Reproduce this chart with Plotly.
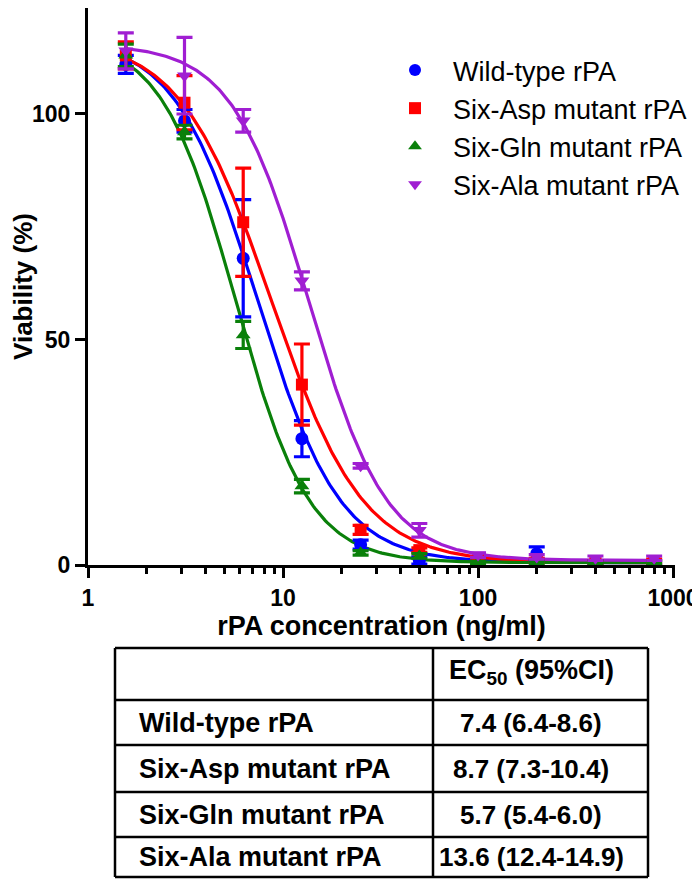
import numpy as np
import plotly.graph_objects as go

# ---------------- data ----------------
conc = [1.5625, 3.125, 6.25, 12.5, 25, 50, 100, 200, 400, 800]

series_names = ["Wild-type rPA", "Six-Asp mutant rPA", "Six-Gln mutant rPA", "Six-Ala mutant rPA"]

wt_mean = [111.0, 98.5, 68.0, 28.0, 4.5, 1.0, 0.5, 2.5, 0.5, 0.5]
wt_err = [2.0, 2.5, 13.0, 4.0, 1.0, 0.8, 0.5, 1.5, 0.5, 0.5]

asp_mean = [113.0, 102.5, 76.0, 40.0, 7.8, 3.3, 1.0, 1.0, 0.5, 0.8]
asp_err = [3.0, 6.0, 12.0, 9.0, 1.0, 0.5, 0.5, 0.5, 0.5, 0.5]

gln_mean = [113.0, 96.0, 51.0, 17.5, 2.7, 2.0, 0.5, 0.5, 0.5, 0.5]
gln_err = [2.5, 1.5, 3.0, 1.5, 0.5, 0.5, 0.3, 0.3, 0.3, 0.3]

ala_mean = [114.0, 108.5, 98.5, 63.0, 22.0, 7.7, 2.2, 1.8, 1.5, 1.5]
ala_err = [4.0, 8.5, 2.5, 2.0, 0.5, 1.5, 0.5, 0.5, 0.5, 0.5]

# fitted four-parameter logistic curve parameters (EC50 from the table)
ec50 = [7.4, 8.7, 5.7, 13.6]
hill = [2.05, 1.85, 2.3, 2.2]
top = [117.0, 117.0, 117.0, 115.5]
bottom = [0.5, 0.5, 0.5, 1.0]

# table
table_header = "EC<sub>50</sub> (95%CI)"
table_labels = ["Wild-type rPA", "Six-Asp mutant rPA", "Six-Gln mutant rPA", "Six-Ala mutant rPA"]
table_values = ["7.4 (6.4-8.6)", "8.7 (7.3-10.4)", "5.7 (5.4-6.0)", "13.6 (12.4-14.9)"]

x_tickvals = [1, 10, 100, 1000]
x_minor_tickvals = [m * d for d in (1, 10, 100) for m in range(2, 10)]
y_tickvals = [0, 50, 100]

# ---------------- styling ----------------
colors = ["#0000FF", "#FF0000", "#0A800A", "#A01ED2"]
symbols = ["circle", "square", "triangle-up", "triangle-down"]
msize = [13, 12, 13, 13]
FONT = "Liberation Sans, Arial, sans-serif"

# the page body has an 8px default margin: build the figure 8px smaller
OFF = 8
W, H = 700 - OFF, 880 - OFF
def px(x):
    return (x - OFF) / W
def py(y):
    return 1 - (y - OFF) / H

means = [wt_mean, asp_mean, gln_mean, ala_mean]
errs = [wt_err, asp_err, gln_err, ala_err]

fig = go.Figure()

xs = np.logspace(np.log10(conc[0]), np.log10(conc[-1]), 300)
for i in range(4):
    ys = bottom[i] + (top[i] - bottom[i]) / (1 + (xs / ec50[i]) ** hill[i])
    fig.add_trace(go.Scatter(x=xs, y=ys, mode="lines",
                             line=dict(color=colors[i], width=3.2),
                             showlegend=False, hoverinfo="skip"))

for i in range(4):
    fig.add_trace(go.Scatter(
        x=conc, y=means[i], mode="markers", name=series_names[i],
        legendgroup=series_names[i],
        marker=dict(symbol=symbols[i], size=msize[i], color=colors[i]),
        error_y=dict(type="data", array=errs[i], visible=True,
                     color=colors[i], thickness=3.2, width=8),
    ))

fig.update_layout(
    width=W, height=H,
    margin=dict(l=0, r=0, t=0, b=0),
    paper_bgcolor="white", plot_bgcolor="white",
    font=dict(family=FONT, color="black"),
    xaxis=dict(
        type="log", range=[0, 3.01], automargin=False,
        domain=[px(88), px(675)],
        showline=True, linecolor="black", linewidth=3,
        showgrid=False, zeroline=False,
        tickvals=x_tickvals, ticktext=[str(v) for v in x_tickvals],
        ticks="outside", ticklen=10, tickwidth=3, tickcolor="black",
        tickfont=dict(size=23, family=FONT, weight="bold"),
        minor=dict(ticks="outside", ticklen=6, tickwidth=3, tickcolor="black",
                   tickvals=x_minor_tickvals, showgrid=False),
        title=dict(text="<b>rPA concentration (ng/ml)</b>",
                   font=dict(size=27, family=FONT), standoff=0),
    ),
    yaxis=dict(
        range=[0, 123.5], automargin=False,
        domain=[py(565), 1],
        showline=True, linecolor="black", linewidth=3,
        showgrid=False, zeroline=False,
        tickvals=y_tickvals,
        ticks="outside", ticklen=10, tickwidth=3, tickcolor="black",
        tickfont=dict(size=23, family=FONT, weight="bold"),
        title=dict(text="<b>Viability (%)</b>",
                   font=dict(size=26, family=FONT), standoff=12),
    ),
    legend=dict(
        x=px(377), y=py(46), xanchor="left", yanchor="top",
        font=dict(size=27, family=FONT),
        bgcolor="rgba(0,0,0,0)", tracegroupgap=0,
        itemsizing="constant", itemwidth=66,
    ),
)

# ---------------- table ----------------
tx0, tx1, tx2 = 115, 433, 648
row_y = [648, 700, 745, 792, 837, 877]
line = dict(color="black", width=2.5)
for y in row_y:
    fig.add_shape(type="line", xref="paper", yref="paper",
                  x0=px(tx0), x1=px(tx2), y0=py(y), y1=py(y), line=line)
for x in [tx0, tx1, tx2]:
    fig.add_shape(type="line", xref="paper", yref="paper",
                  x0=px(x), x1=px(x), y0=py(row_y[0]), y1=py(row_y[-1]), line=line)

col2_center = 531
fig.add_annotation(xref="paper", yref="paper", x=px(col2_center), y=py((row_y[0] + row_y[1]) / 2 - 2),
                   text="<b>" + table_header + "</b>", showarrow=False,
                   font=dict(size=27, family=FONT, color="black"), xanchor="center", yanchor="middle")
for k in range(4):
    yc = (row_y[k + 1] + row_y[k + 2]) / 2
    fig.add_annotation(xref="paper", yref="paper", x=px(137), y=py(yc),
                       text="<b>" + table_labels[k] + "</b>", showarrow=False,
                       font=dict(size=27, family=FONT, color="black"), xanchor="left", yanchor="middle")
    fig.add_annotation(xref="paper", yref="paper", x=px(col2_center), y=py(yc),
                       text="<b>" + table_values[k] + "</b>", showarrow=False,
                       font=dict(size=26, family=FONT, color="black"), xanchor="center", yanchor="middle")

fig.write_html("out.html")
